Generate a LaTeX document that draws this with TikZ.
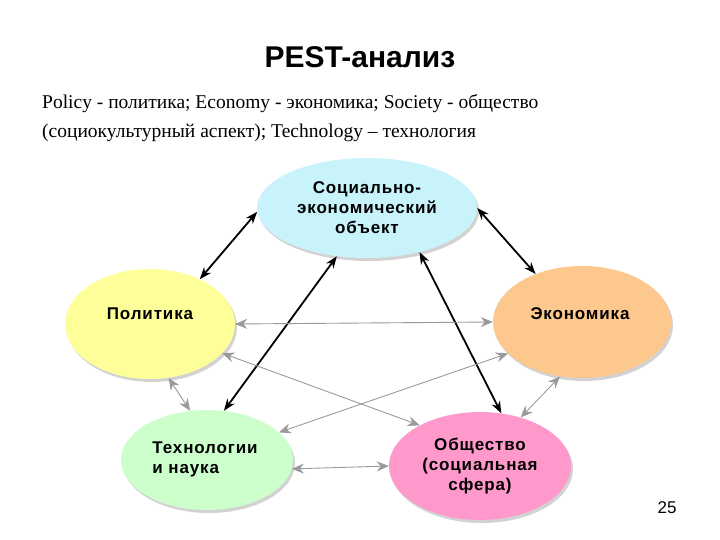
\documentclass[tikz,border=0pt]{standalone}
\usepackage{fontspec}
\setmainfont{Liberation Serif}
\newfontfamily\arial{Liberation Sans}
\newfontfamily\arialsp[LetterSpace=5]{Liberation Sans}
\usetikzlibrary{shapes.geometric,shadows,arrows.meta}
\definecolor{cyanf}{HTML}{C9F3FA}
\definecolor{yelf}{HTML}{FFFF99}
\definecolor{orf}{HTML}{FCC88E}
\definecolor{grf}{HTML}{CCFFCC}
\definecolor{pkf}{HTML}{FF99CC}
\definecolor{arrg}{HTML}{9A9A9A}
\tikzset{
  oval/.style={ellipse, inner sep=0pt, align=center, font=\arialsp\bfseries\fontsize{17}{20}\selectfont,
    drop shadow={shadow xshift=2pt,shadow yshift=-3pt,fill=black!35}},
  otext/.style={font=\arialsp\bfseries\fontsize{17}{20}\selectfont},
  blk/.style={{Stealth[length=12pt,width=9pt]}-{Stealth[length=12pt,width=9pt]}, line width=1.8pt, black},
  gry/.style={{Stealth[length=12pt,width=10pt]}-{Stealth[length=12pt,width=10pt]}, line width=0.9pt, arrg},
}
\begin{document}
\begin{tikzpicture}[x=1pt,y=-1pt]
\useasboundingbox (0,0) rectangle (720,540);
\node[font=\arial\bfseries\fontsize{30}{34}\selectfont] (title) at (360,57) {PEST-анализ};
\node[anchor=west, align=left, inner sep=0pt, font=\fontsize{19.5}{29}\selectfont] (sub) at (42,118)
  {Policy - политика; Economy - экономика; Society - общество\\(социокультурный аспект); Technology -- технология};
\node[oval, fill=cyanf, minimum width=220pt, minimum height=100pt] (top) at (367,208)
  {Социально-\\экономический\\объект};
\node[oval, fill=yelf, minimum width=170pt, minimum height=110pt] (pol) at (150,324) {};
\node[otext] (polt) at (150,314) {Политика};
\node[oval, fill=orf, minimum width=178pt, minimum height=112pt] (eco) at (582,322) {};
\node[otext] (ecot) at (580,314) {Экономика};
\node[oval, fill=grf, minimum width=172pt, minimum height=100pt] (tech) at (207,460) {};
\node[otext, align=left] (techt) at (205,459) {Технологии\\и наука};
\node[oval, fill=pkf, minimum width=182pt, minimum height=108pt] (obs) at (480,466)
  {Общество\\(социальная\\сфера)};
\node[font=\arial\fontsize{17}{19}\selectfont] (num) at (667,508) {25};
\draw[blk] (top.182) -- (pol.42);
\draw[blk] (top.0) -- (eco.134);
\draw[blk] (top.238) -- (tech.71);
\draw[blk] (top.320) -- (obs.68);
\draw[gry] (pol.east) -- (eco.west);
\draw[gry] (pol.338) -- (obs.146);
\draw[gry] (eco.203) -- (tech.21);
\draw[gry] (pol.289) -- (tech.109);
\draw[gry] (eco.248) -- (obs.50);
\draw[gry] (tech.-6) -- (obs.west);
\end{tikzpicture}
\end{document}
